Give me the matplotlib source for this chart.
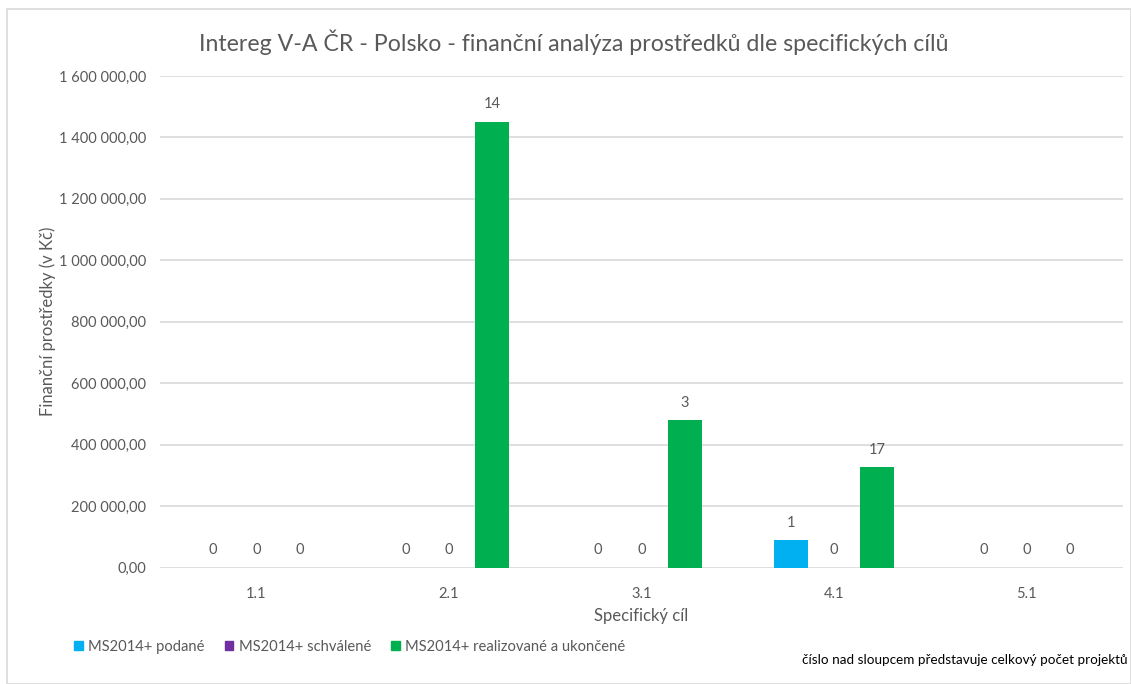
import matplotlib
matplotlib.use('Agg')
import matplotlib.pyplot as plt
from matplotlib.patches import Patch, Rectangle
from matplotlib.ticker import FuncFormatter, MultipleLocator

plt.rcParams['font.family'] = ['Lato', 'DejaVu Sans']

# data
categories = ['1.1', '2.1', '3.1', '4.1', '5.1']
series_names = ['MS2014+ podané', 'MS2014+ schválené', 'MS2014+ realizované a ukončené']
podane = [0, 0, 0, 88000, 0]
schvalene = [0, 0, 0, 0, 0]
realizovane = [0, 1451000, 479000, 327000, 0]
# project counts shown above the bars (None = no label)
cnt_podane = [0, 0, 0, 1, 0]
cnt_schvalene = [0, 0, 0, 0, 0]
cnt_realizovane = [0, 14, 3, 17, 0]

colors = ['#00B0F0', '#7030A0', '#00B050']
grey = '#595959'

W, H = 1131, 684
fig = plt.figure(figsize=(W / 100, H / 100), dpi=100)

# chart border like in Excel
fig.patches.append(Rectangle((7 / W, 0), 1 - 7 / W, 1 - 9 / H, transform=fig.transFigure,
                             fill=False, edgecolor='#d9d9d9', linewidth=1.2))

ax = fig.add_axes([160 / W, (H - 567.5) / H, (1123 - 160) / W, (567.5 - 76) / H])

x = list(range(len(categories)))
width = 0.176
offset = 0.225
all_vals = [podane, schvalene, realizovane]
all_cnts = [cnt_podane, cnt_schvalene, cnt_realizovane]

for i, (vals, cnts) in enumerate(zip(all_vals, all_cnts)):
    pos = [xi + (i - 1) * offset for xi in x]
    ax.bar(pos, vals, width=width, color=colors[i], zorder=3)
    for p, v, c in zip(pos, vals, cnts):
        if c is None:
            continue
        ax.annotate(str(c), (p, v), xytext=(0, 12.5), textcoords='offset points',
                    ha='center', va='center', fontsize=10.5, color=grey)

ax.set_xlim(-0.5, len(categories) - 0.5)
ax.set_ylim(0, 1600000)
ax.yaxis.set_major_locator(MultipleLocator(200000))
ax.yaxis.set_major_formatter(FuncFormatter(lambda v, _: f'{v:,.2f}'.replace(',', ' ').replace('.', ',')))
ax.set_xticks(x)
ax.set_xticklabels(categories)
ax.tick_params(axis='both', length=0, labelsize=10.5, labelcolor=grey)
ax.tick_params(axis='x', pad=14)
ax.tick_params(axis='y', pad=10)
ax.grid(axis='y', color='#d9d9d9', linewidth=1.2, zorder=0)
for s in ax.spines.values():
    s.set_visible(False)

ax.set_xlabel('Specifický cíl', fontsize=12, color=grey, labelpad=5)
ax.set_ylabel('Finanční prostředky (v Kč)', fontsize=12, color=grey, labelpad=2)

fig.text(574 / W, 1 - 42 / H, 'Intereg V-A ČR - Polsko - finanční analýza prostředků dle specifických cílů',
         ha='center', va='center', fontsize=16.7, color=grey)

handles = [Patch(color=c) for c in colors]
fig.legend(handles, series_names, loc='center left', bbox_to_anchor=(61 / W, 1 - 647 / H),
           ncol=3, frameon=False, fontsize=10.6, labelcolor=grey, handlelength=0.6,
           handleheight=0.6, handletextpad=0.35, columnspacing=1.35)

fig.text(1128 / W, 1 - 660 / H, 'číslo nad sloupcem představuje celkový počet projektů',
         ha='right', va='center', fontsize=9.7, color='black')

fig.savefig('out.png', dpi=100)
